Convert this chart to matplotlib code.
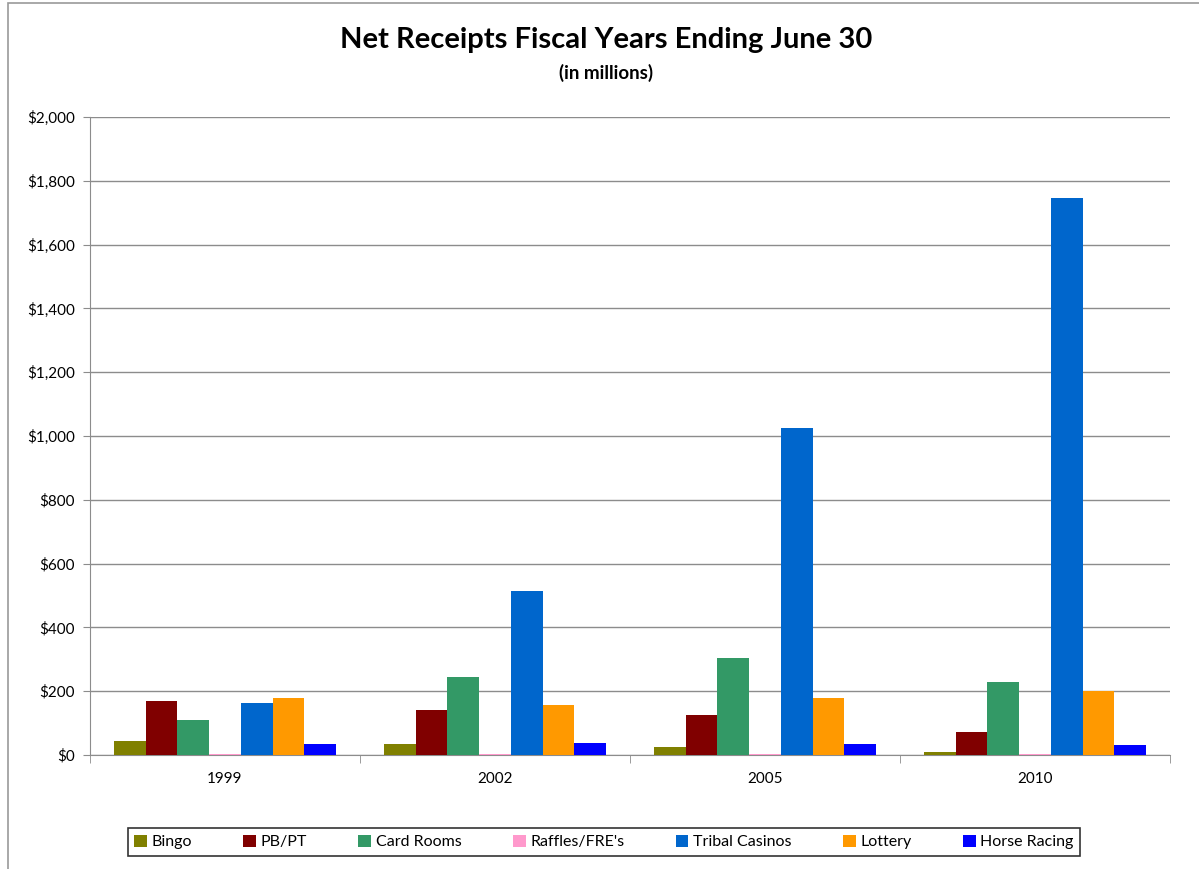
import matplotlib.pyplot as plt
import numpy as np
from matplotlib.patches import Rectangle
from matplotlib.ticker import FuncFormatter, MultipleLocator

plt.rcParams['font.family'] = ['Lato', 'DejaVu Sans']

# Data (in millions of dollars)
years = ['1999', '2002', '2005', '2010']
series = ['Bingo', 'PB/PT', 'Card Rooms', "Raffles/FRE's", 'Tribal Casinos', 'Lottery', 'Horse Racing']
bingo = [45, 35, 25, 9]
pb_pt = [169, 141, 125, 72]
card_rooms = [110, 245, 304, 229]
raffles = [3, 3, 3, 3]
tribal = [164, 514, 1025, 1746]
lottery = [179, 157, 179, 200]
horse = [35, 38, 35, 31]
values = [bingo, pb_pt, card_rooms, raffles, tribal, lottery, horse]
colors = ['#808000', '#800000', '#339966', '#FF99CC', '#0066CC', '#FF9900', '#0000FF']

fig = plt.figure(figsize=(11.99, 8.69), dpi=100)
ax = fig.add_axes([90/1199, 1-755/869, 1080/1199, 638/869])

# outer chart frame
fig.patches.append(Rectangle((8/1199, -0.05), 1.2, 1 - 3/869 + 0.05, transform=fig.transFigure,
                             fill=False, edgecolor='#999999', lw=1.2))

n = len(series)
w = 1 / (n + 1.5)
x = np.arange(len(years))
for i in range(n):
    ax.bar(x - 0.5 + 0.75*w + i*w + w/2, values[i], width=w, color=colors[i], label=series[i],
           zorder=3, linewidth=0)

ax.set_xlim(-0.5, len(years) - 0.5)
ax.set_ylim(0, 2000)
ax.yaxis.set_major_locator(MultipleLocator(200))
ax.yaxis.set_major_formatter(FuncFormatter(lambda v, p: '${:,.0f}'.format(v)))
ax.grid(axis='y', color='#8c8c8c', lw=1, zorder=0)
ax.set_xticks(x)
ax.set_xticklabels(years)
ax.set_xticks(np.arange(len(years) + 1) - 0.5, minor=True)
ax.tick_params(axis='x', which='major', length=0, pad=12, labelsize=11)
ax.tick_params(axis='x', which='minor', length=6, color='#8c8c8c', direction='out')
ax.tick_params(axis='y', length=5, color='#8c8c8c', labelsize=11, pad=6)
for s in ['top', 'right']:
    ax.spines[s].set_visible(False)
for s in ['left', 'bottom']:
    ax.spines[s].set_color('#8c8c8c')

fig.text(606/1199, 1-40/869, 'Net Receipts Fiscal Years Ending June 30', ha='center', va='center',
         fontsize=21, fontweight='bold')
fig.text(606/1199, 1-73/869, '(in millions)', ha='center', va='center', fontsize=13.5, fontweight='bold')

leg = ax.legend(loc='center', bbox_to_anchor=(604/1199, 1-842/869), bbox_transform=fig.transFigure,
                ncol=n, frameon=True, fancybox=False, edgecolor='black', fontsize=11.5,
                handlelength=0.8, handleheight=0.8, handletextpad=0.3, columnspacing=3.2,
                borderpad=0.4)
leg.get_frame().set_linewidth(1.2)

plt.savefig('out.png', dpi=100)
